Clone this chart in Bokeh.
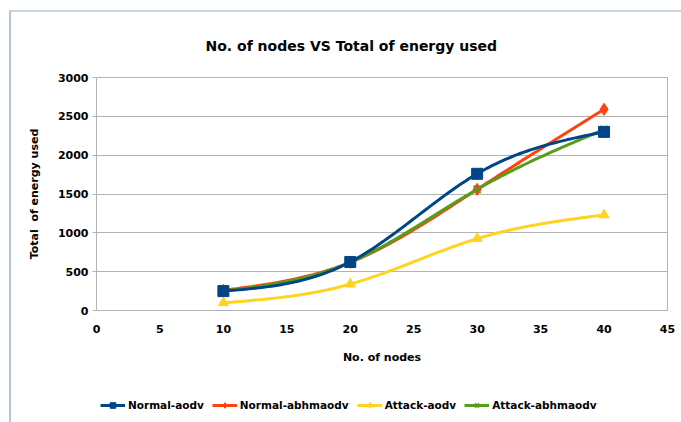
import numpy as np
from bokeh.plotting import figure
from bokeh.layouts import column
from bokeh.models import Range1d, Legend, LegendItem, SingleIntervalTicker
from bokeh.embed import file_html
from bokeh.resources import INLINE

# number of nodes in the network
nodes = [10, 20, 30, 40]

# total energy used per scenario
normal_aodv = [250, 625, 1760, 2300]
normal_abhmaodv = [260, 620, 1560, 2590]
attack_aodv = [100, 340, 925, 1230]
attack_abhmaodv = [250, 620, 1560, 2330]

series_names = ["Normal-aodv", "Normal-abhmaodv", "Attack-aodv", "Attack-abhmaodv"]
colors = ["#004586", "#ff420e", "#ffd320", "#579d1c"]
markers = ["square", "diamond", "triangle", "x"]
marker_sizes = [11, 12, 10, 10]

FONT = "DejaVu Sans"


def natural_spline(xs, ys, n=120):
    """Natural cubic spline through the points, sampled for drawing a smooth line."""
    x = np.asarray(xs, float)
    y = np.asarray(ys, float)
    k = len(x)
    h = np.diff(x)
    A = np.zeros((k, k))
    r = np.zeros(k)
    A[0, 0] = A[-1, -1] = 1.0
    for i in range(1, k - 1):
        A[i, i - 1] = h[i - 1]
        A[i, i] = 2 * (h[i - 1] + h[i])
        A[i, i + 1] = h[i]
        r[i] = 3 * ((y[i + 1] - y[i]) / h[i] - (y[i] - y[i - 1]) / h[i - 1])
    c = np.linalg.solve(A, r)
    xx = np.linspace(x[0], x[-1], n)
    yy = np.empty_like(xx)
    for j, t in enumerate(xx):
        i = min(np.searchsorted(x, t, side="right") - 1, k - 2)
        dx = t - x[i]
        b = (y[i + 1] - y[i]) / h[i] - h[i] * (2 * c[i] + c[i + 1]) / 3
        d = (c[i + 1] - c[i]) / (3 * h[i])
        yy[j] = y[i] + b * dx + c[i] * dx ** 2 + d * dx ** 3
    return xx, yy


# main chart
p = figure(width=670, height=354, output_backend="svg", toolbar_location=None,
           x_range=Range1d(0, 45), y_range=Range1d(0, 3000),
           min_border_left=85, min_border_right=14, min_border_top=64, min_border_bottom=56,
           title="No. of nodes VS Total of energy used")
p.background_fill_color = "white"
p.border_fill_color = "white"
p.outline_line_color = "#b3b3b3"
p.outline_line_width = 1

p.title.align = "left"
p.title.offset = 109
p.title.standoff = 47
p.title.text_font = FONT
p.title.text_font_style = "bold"
p.title.text_font_size = "14px"
p.title.text_color = "black"

p.xgrid.grid_line_color = None
p.ygrid.grid_line_color = "#b3b3b3"
p.xaxis.ticker = SingleIntervalTicker(interval=5)
p.yaxis.ticker = SingleIntervalTicker(interval=500)

for ax in (p.xaxis[0], p.yaxis[0]):
    ax.axis_line_color = "#b3b3b3"
    ax.major_tick_line_color = "#b3b3b3"
    ax.minor_tick_line_color = None
    ax.major_tick_in = 0
    ax.major_label_text_font = FONT
    ax.major_label_text_font_style = "bold"
    ax.major_label_text_font_size = "11px"
    ax.major_label_text_color = "black"
    ax.axis_label_text_font = FONT
    ax.axis_label_text_font_style = "bold"
    ax.axis_label_text_font_size = "11px"
    ax.axis_label_text_color = "black"

p.xaxis.major_tick_out = 0
p.xaxis.major_label_standoff = 10
p.xaxis.axis_label = "No. of nodes"
p.xaxis.axis_label_standoff = 15
p.yaxis.major_tick_out = 4
p.yaxis.major_label_standoff = 4
p.yaxis.axis_label = "Total \u00a0of energy used"
p.yaxis.axis_label_standoff = 14

all_series = [normal_aodv, normal_abhmaodv, attack_aodv, attack_abhmaodv]

# curves and markers, with Normal-aodv painted on top
draw_order = [1, 2, 3, 0]
for i in draw_order:
    sx, sy = natural_spline(nodes, all_series[i])
    p.line(sx, sy, line_color=colors[i], line_width=3)
for i in draw_order:
    mk = markers[i]
    p.scatter(nodes, all_series[i], marker=mk, size=marker_sizes[i],
              fill_color=colors[i], line_color=colors[i],
              line_width=2 if mk == "x" else 1)

# legend strip under the chart; its frame lines up with the chart frame above,
# and its renderers hold the same series, which fall outside its own ranges
lg = figure(width=670, height=56, output_backend="svg", toolbar_location=None,
            x_range=Range1d(0, 1), y_range=Range1d(0, 1),
            x_axis_location=None, y_axis_location=None,
            min_border=0, outline_line_color=None)
lg.grid.visible = False
lg.background_fill_color = "white"
lg.border_fill_color = "white"

items = []
for name, vals, col, mk, ms in zip(series_names, all_series, colors, markers, marker_sizes):
    ln = lg.line(nodes, vals, line_color=col, line_width=3)
    sc = lg.scatter(nodes, vals, marker=mk, size=ms - 2, fill_color=col, line_color=col,
                    line_width=2 if mk == "x" else 1)
    items.append(LegendItem(label=name, renderers=[ln, sc]))

legend = Legend(items=items, orientation="horizontal", location=(4, 10),
                glyph_width=25, glyph_height=14, label_standoff=3, spacing=8,
                padding=0, margin=0, border_line_color=None, background_fill_alpha=0,
                label_text_font=FONT, label_text_font_style="bold",
                label_text_font_size="10.5px", label_text_color="black")
lg.add_layout(legend, "center")

# chart area with its border on the left and top edges
layout = column(p, lg, spacing=0)
layout.styles = {"position": "relative", "left": "9px", "top": "10px",
                 "border-left": "2px solid #b4c6d6", "border-top": "2px solid #c8d6e4"}

open("out.html", "w").write(file_html(layout, INLINE))
